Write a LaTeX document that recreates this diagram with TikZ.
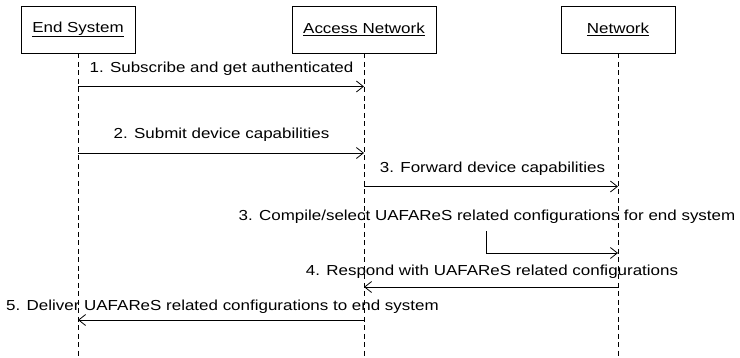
\documentclass[tikz,border=0pt]{standalone}
\usepackage{fontspec}
\setmainfont{Liberation Sans}[FakeStretch=1.17]
\usetikzlibrary{arrows.meta}
\begin{document}
\begin{tikzpicture}[x=1bp,y=-1bp,
  every node/.style={font=\fontsize{14.5bp}{16bp}\selectfont, inner sep=0pt},
  actor/.style={draw, line width=0.9bp, minimum height=47bp},
  life/.style={line width=0.7bp, dash pattern=on 5bp off 3.5bp},
  msg/.style={line width=0.9bp, -{Straight Barb[length=7bp,width=11bp,line width=0.8bp]}},
  lbl/.style={anchor=base}]
  \useasboundingbox (0,0) rectangle (740,357);

  % participants
  \node[actor, minimum width=114bp] (es) at (78,29.5) {\underline{End System}};
  \node[actor, minimum width=144bp] (an) at (364,29.5) {\underline{Access Network}};
  \node[actor, minimum width=114bp] (nw) at (618,29.5) {\underline{Network}};

  % lifeline ends
  \coordinate (esend) at (78,357);
  \coordinate (anend) at (364,357);
  \coordinate (nwend) at (618,357);
  \draw[life] (es.south) -- (esend);
  \draw[life] (an.south) -- (anend);
  \draw[life] (nw.south) -- (nwend);

  % message end points on the lifelines
  \coordinate (m1a) at (78,86.5);   \coordinate (m1b) at (364,86.5);
  \coordinate (m2a) at (78,153);    \coordinate (m2b) at (364,153);
  \coordinate (m3a) at (364,186.5); \coordinate (m3b) at (618,186.5);
  \coordinate (m4a) at (618,287);   \coordinate (m4b) at (364,287);
  \coordinate (m5a) at (364,320);   \coordinate (m5b) at (78,320);
  \coordinate (c3a) at (486,231);   \coordinate (c3b) at (618,253);

  % messages
  \draw[msg] (m1a) -- (m1b);
  \node[lbl] (t1) at (221.5,72) {1. Subscribe and get authenticated};
  \draw[msg] (m2a) -- (m2b);
  \node[lbl] (t2) at (221.5,138.5) {2. Submit device capabilities};
  \draw[msg] (m3a) -- (m3b);
  \node[lbl] (t3) at (492.5,172) {3. Forward device capabilities};
  \node[lbl] (t3c) at (487,220) {3. Compile/select UAFAReS related configurations for end system};
  \draw[msg] (c3a) |- (c3b);
  \draw[msg] (m4a) -- (m4b);
  \node[lbl] (t4) at (492,275.5) {4. Respond with UAFAReS related configurations};
  \draw[msg] (m5a) -- (m5b);
  \node[lbl] (t5) at (222.5,310) {5. Deliver UAFAReS related configurations to end system};
\end{tikzpicture}
\end{document}
